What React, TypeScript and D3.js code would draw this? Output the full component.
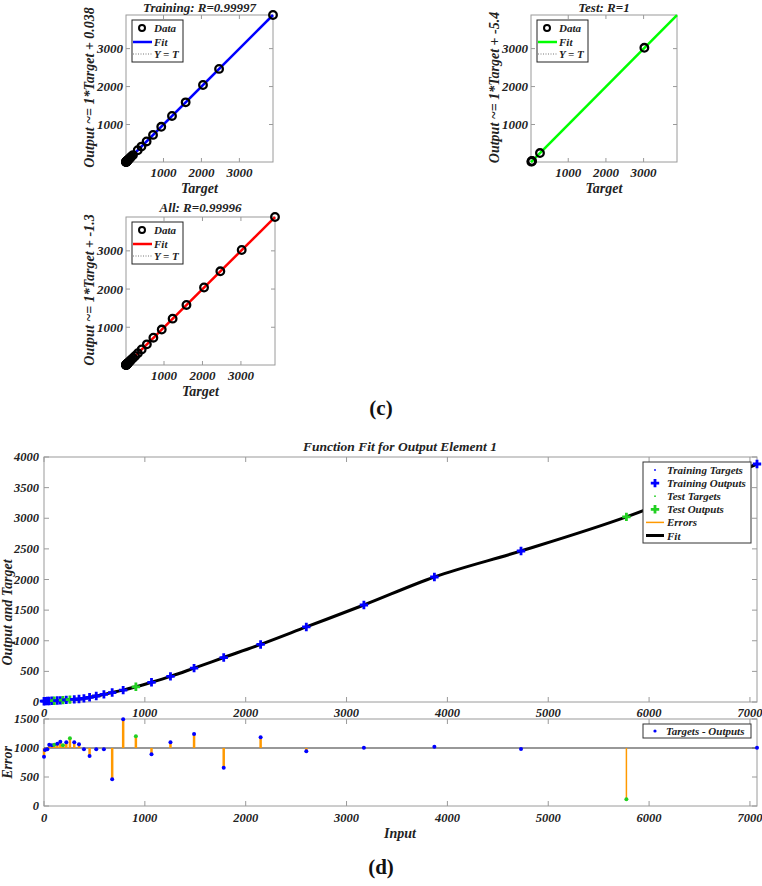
import React from 'react';
import * as d3 from 'd3';

// ---- data ----
const inputs = [0, 10, 33, 52, 79, 102, 132, 162, 188, 221, 257, 300, 347, 396, 452, 518, 594, 676, 785, 911, 1066, 1254, 1488, 1782, 2148, 2601, 3172, 3871, 4730, 5775, 7070];
const targets = [12, 14, 16, 18, 20, 22, 24, 27, 30, 35, 40, 44, 49, 60, 76, 98, 125, 152, 196, 250, 321, 419, 555, 724, 941, 1224, 1584, 2041, 2465, 3020, 3886];
const outputs = [13, 14, 16, 17, 20, 21, 24, 26, 30, 34, 39, 43, 49, 60, 77, 98, 125, 154, 194, 248, 322, 418, 553, 726, 940, 1225, 1584, 2041, 2465, 3022, 3886];
const errorValues = [850, 965, 978, 1057, 1046, 1057, 1074, 1109, 1046, 1098, 1167, 1098, 1063, 978, 862, 978, 978, 460, 1495, 1201, 891, 1098, 1241, 660, 1184, 943, 1005, 1022, 983, 116, 1005];
const isTest = [false, false, false, false, false, true, false, false, true, false, true, false, false, false, false, false, false, false, false, true, false, false, false, false, false, false, false, false, false, true, false];

const errorBaseline = 1000;
const mainXTicks = [0, 1000, 2000, 3000, 4000, 5000, 6000, 7000];
const mainYTicks = [0, 500, 1000, 1500, 2000, 2500, 3000, 3500, 4000];
const errYTicks = [0, 500, 1000, 1500];
const regTicks = [1000, 2000, 3000];

const regPanels = [
  { key: 'train', title: 'Training: R=0.99997', ylabel: 'Output ~= 1*Target + 0.038', slope: 1, offset: 0.038, color: '#0000ff', set: 'train' },
  { key: 'test', title: 'Test: R=1', ylabel: 'Output ~= 1*Target + -5.4', slope: 1, offset: -5.4, color: '#00ff00', set: 'test' },
  { key: 'all', title: 'All: R=0.99996', ylabel: 'Output ~= 1*Target + -1.3', slope: 1, offset: -1.3, color: '#ff0000', set: 'all' },
];

const mainLegend = ['Training Targets', 'Training Outputs', 'Test Targets', 'Test Outputs', 'Errors', 'Fit'];

// ---- styles ----
const FONT = 'Liberation Serif, Times New Roman, serif';
const AX = '#9a9a9a';
const TXT = '#222';
const BLUE = '#0000ff';
const GREEN = '#22d022';
const ORANGE = '#ff9900';

const tStyle = { fontFamily: FONT, fontWeight: 700, fontStyle: 'italic' } as const;

const layout: Record<string, { l: number; t: number; w: number; h: number }> = {
  train: { l: 126, t: 15, w: 147, h: 147 },
  test: { l: 531, t: 15, w: 146, h: 147 },
  all: { l: 126, t: 217, w: 149, h: 148 },
};

function RegPanel({ p }: { p: typeof regPanels[number] }) {
  const g = layout[p.key];
  const dom = [d3.min(targets)!, d3.max(targets)!];
  const x = d3.scaleLinear().domain(dom).range([g.l, g.l + g.w]);
  const y = d3.scaleLinear().domain(dom).range([g.t + g.h, g.t]);
  const idx = inputs.map((_, i) => i).filter(i => p.set === 'all' || (p.set === 'test' ? isTest[i] : !isTest[i]));
  const fitY = (v: number) => p.slope * v + p.offset;
  const tl = 4;
  const cx = g.l + g.w / 2;
  const lg = { x: g.l + 6, y: g.t + 5, w: 51, h: 42 };
  return (
    <g>
      <rect x={g.l} y={g.t} width={g.w} height={g.h} fill="#fff" stroke={AX} strokeWidth={1} />
      {regTicks.map(v => (
        <g key={'t' + v}>
          <line x1={x(v)} x2={x(v)} y1={g.t + g.h} y2={g.t + g.h - tl} stroke={AX} />
          <line x1={x(v)} x2={x(v)} y1={g.t} y2={g.t + tl} stroke={AX} />
          <line y1={y(v)} y2={y(v)} x1={g.l} x2={g.l + tl} stroke={AX} />
          <line y1={y(v)} y2={y(v)} x1={g.l + g.w} x2={g.l + g.w - tl} stroke={AX} />
          <text x={x(v)} y={g.t + g.h + 15} textAnchor="middle" fontSize={13} fill={TXT} style={tStyle}>{v}</text>
          <text x={g.l - 3} y={y(v) + 4.5} textAnchor="end" fontSize={13} fill={TXT} style={tStyle}>{v}</text>
        </g>
      ))}
      <line x1={x(dom[0])} y1={y(dom[0])} x2={x(dom[1])} y2={y(dom[1])} stroke="#777" strokeDasharray="1,1.5" />
      <line x1={x(dom[0])} y1={y(fitY(dom[0]))} x2={x(dom[1])} y2={y(fitY(dom[1]))} stroke={p.color} strokeWidth={2.5} />
      {idx.map(i => (
        <circle key={i} cx={x(targets[i])} cy={y(outputs[i])} r={3.8} fill="none" stroke="#000" strokeWidth={2.3} />
      ))}
      <text x={cx} y={p.key === 'all' ? g.t - 5 : 12} textAnchor="middle" fontSize={13} fill={TXT} style={tStyle}>{p.title}</text>
      <text x={cx} y={g.t + g.h + 31} textAnchor="middle" fontSize={14} fill={TXT} style={tStyle}>Target</text>
      <text transform={`translate(${g.l - 32},${g.t + g.h / 2 - 1}) rotate(-90)`} textAnchor="middle" fontSize={14} fill={TXT} style={tStyle}>{p.ylabel}</text>
      <rect x={lg.x} y={lg.y} width={lg.w} height={lg.h} fill="#fff" stroke="#222" strokeWidth={1} />
      <circle cx={lg.x + 10} cy={lg.y + 8} r={3} fill="none" stroke="#000" strokeWidth={2} />
      <text x={lg.x + 22} y={lg.y + 12} fontSize={11} fill={TXT} style={tStyle}>Data</text>
      <line x1={lg.x + 1} x2={lg.x + 20} y1={lg.y + 22} y2={lg.y + 22} stroke={p.color} strokeWidth={2.5} />
      <text x={lg.x + 22} y={lg.y + 26} fontSize={11} fill={TXT} style={tStyle}>Fit</text>
      <line x1={lg.x + 1} x2={lg.x + 20} y1={lg.y + 34} y2={lg.y + 34} stroke="#777" strokeDasharray="1,1.5" />
      <text x={lg.x + 22} y={lg.y + 38} fontSize={11} fill={TXT} style={tStyle}>Y = T</text>
    </g>
  );
}

function Plus({ x, y, color }: { x: number; y: number; color: string }) {
  return <path d={`M${x - 4.2},${y}H${x + 4.2}M${x},${y - 4.2}V${y + 4.2}`} stroke={color} strokeWidth={2.8} fill="none" />;
}

function MainPlot() {
  const m = { l: 44, t: 457, r: 757, b: 702 };
  const e = { l: 44, t: 719, r: 757, b: 806 };
  const x = d3.scaleLinear().domain([0, d3.max(inputs)!]).range([m.l, m.r]);
  const y = d3.scaleLinear().domain([0, 4000]).range([m.b, m.t]);
  const ye = d3.scaleLinear().domain([0, 1500]).range([e.b, e.t]);
  const fitLine = d3.line<number>().x(i => x(inputs[i])).y(i => y(outputs[i])).curve(d3.curveMonotoneX);
  const idx = inputs.map((_, i) => i);
  const tl = 5;
  const lg = { x: 643, y: 462, w: 108, h: 81 };
  const rowY = (k: number) => lg.y + 8 + k * 13.1;
  return (
    <g>
      {/* main axes */}
      <rect x={m.l} y={m.t} width={m.r - m.l} height={m.b - m.t} fill="#fff" stroke={AX} />
      {mainXTicks.map(v => (
        <g key={'mx' + v}>
          <line x1={x(v)} x2={x(v)} y1={m.b} y2={m.b - tl} stroke={AX} />
          <line x1={x(v)} x2={x(v)} y1={m.t} y2={m.t + tl} stroke={AX} />
          <text x={x(v)} y={m.b + 15} textAnchor="middle" fontSize={12.5} fill={TXT} style={tStyle}>{v}</text>
        </g>
      ))}
      {mainYTicks.map(v => (
        <g key={'my' + v}>
          <line y1={y(v)} y2={y(v)} x1={m.l} x2={m.l + tl} stroke={AX} />
          <line y1={y(v)} y2={y(v)} x1={m.r} x2={m.r - tl} stroke={AX} />
          <text x={m.l - 5} y={y(v) + 4} textAnchor="end" fontSize={12.5} fill={TXT} style={tStyle}>{v}</text>
        </g>
      ))}
      <path d={fitLine(idx)!} fill="none" stroke="#000" strokeWidth={3} />
      {idx.map(i => (
        <g key={'p' + i}>
          <circle cx={x(inputs[i])} cy={y(targets[i])} r={0.8} fill={isTest[i] ? GREEN : BLUE} />
          <Plus x={x(inputs[i])} y={y(outputs[i])} color={isTest[i] ? GREEN : BLUE} />
        </g>
      ))}
      <text x={400} y={451} textAnchor="middle" fontSize={13.5} fill={TXT} style={tStyle}>Function Fit for Output Element 1</text>
      <text transform={`translate(12,${(m.t + m.b) / 2 + 33}) rotate(-90)`} textAnchor="middle" fontSize={14} fill={TXT} style={tStyle}>Output and Target</text>
      {/* legend */}
      <rect x={lg.x} y={lg.y} width={lg.w} height={lg.h} fill="#fff" stroke="#333" />
      {mainLegend.map((name, k) => (
        <text key={name} x={lg.x + 24} y={rowY(k) + 4} fontSize={11} fill={TXT} style={tStyle}>{name}</text>
      ))}
      <circle cx={lg.x + 12} cy={rowY(0)} r={0.9} fill={BLUE} />
      <Plus x={lg.x + 12} y={rowY(1)} color={BLUE} />
      <circle cx={lg.x + 12} cy={rowY(2)} r={0.9} fill={GREEN} />
      <Plus x={lg.x + 12} y={rowY(3)} color={GREEN} />
      <line x1={lg.x + 3} x2={lg.x + 21} y1={rowY(4)} y2={rowY(4)} stroke={ORANGE} strokeWidth={1.5} />
      <line x1={lg.x + 3} x2={lg.x + 21} y1={rowY(5)} y2={rowY(5)} stroke="#000" strokeWidth={3} />

      {/* error axes */}
      <rect x={e.l} y={e.t} width={e.r - e.l} height={e.b - e.t} fill="#fff" stroke={AX} />
      {mainXTicks.map(v => (
        <g key={'ex' + v}>
          <line x1={x(v)} x2={x(v)} y1={e.b} y2={e.b - tl} stroke={AX} />
          <line x1={x(v)} x2={x(v)} y1={e.t} y2={e.t + tl} stroke={AX} />
          <text x={x(v)} y={e.b + 16} textAnchor="middle" fontSize={12.5} fill={TXT} style={tStyle}>{v}</text>
        </g>
      ))}
      {errYTicks.map(v => (
        <g key={'ey' + v}>
          <line y1={ye(v)} y2={ye(v)} x1={e.l} x2={e.l + tl} stroke={AX} />
          <line y1={ye(v)} y2={ye(v)} x1={e.r} x2={e.r - tl} stroke={AX} />
          <text x={e.l - 5} y={ye(v) + 4} textAnchor="end" fontSize={12.5} fill={TXT} style={tStyle}>{v}</text>
        </g>
      ))}
      <line x1={e.l} x2={e.r} y1={ye(errorBaseline)} y2={ye(errorBaseline)} stroke="#333" strokeWidth={1.2} />
      {idx.map(i => (
        <line key={'s' + i} x1={x(inputs[i])} x2={x(inputs[i])} y1={ye(errorBaseline)} y2={ye(errorValues[i])} stroke={ORANGE} strokeWidth={isTest[i] && inputs[i] > 3000 ? 1.5 : 2.5} />
      ))}
      {idx.map(i => (
        <circle key={'d' + i} cx={x(inputs[i])} cy={ye(errorValues[i])} r={2} fill={isTest[i] ? GREEN : BLUE} />
      ))}
      <rect x={643} y={724} width={108} height={14} fill="#fff" stroke="#333" />
      <circle cx={655} cy={731} r={1.6} fill={BLUE} />
      <text x={666} y={735} fontSize={11} fill={TXT} style={tStyle}>Targets - Outputs</text>
      <text transform={`translate(12,${(e.t + e.b) / 2}) rotate(-90)`} textAnchor="middle" fontSize={14} fill={TXT} style={tStyle}>Error</text>
      <text x={400} y={838} textAnchor="middle" fontSize={14} fill={TXT} style={tStyle}>Input</text>
    </g>
  );
}

export default function App() {
  return (
    <svg width={762} height={886} style={{ position: 'absolute', left: 0, top: 0, background: '#fff' }}>
      <rect width={762} height={886} fill="#fff" />
      {regPanels.map(p => <RegPanel key={p.key} p={p} />)}
      <text x={381} y={415} textAnchor="middle" fontSize={21} fontWeight={700} fontFamily={FONT} fill="#111">(c)</text>
      <MainPlot />
      <text x={381} y={874} textAnchor="middle" fontSize={21} fontWeight={700} fontFamily={FONT} fill="#111">(d)</text>
    </svg>
  );
}
